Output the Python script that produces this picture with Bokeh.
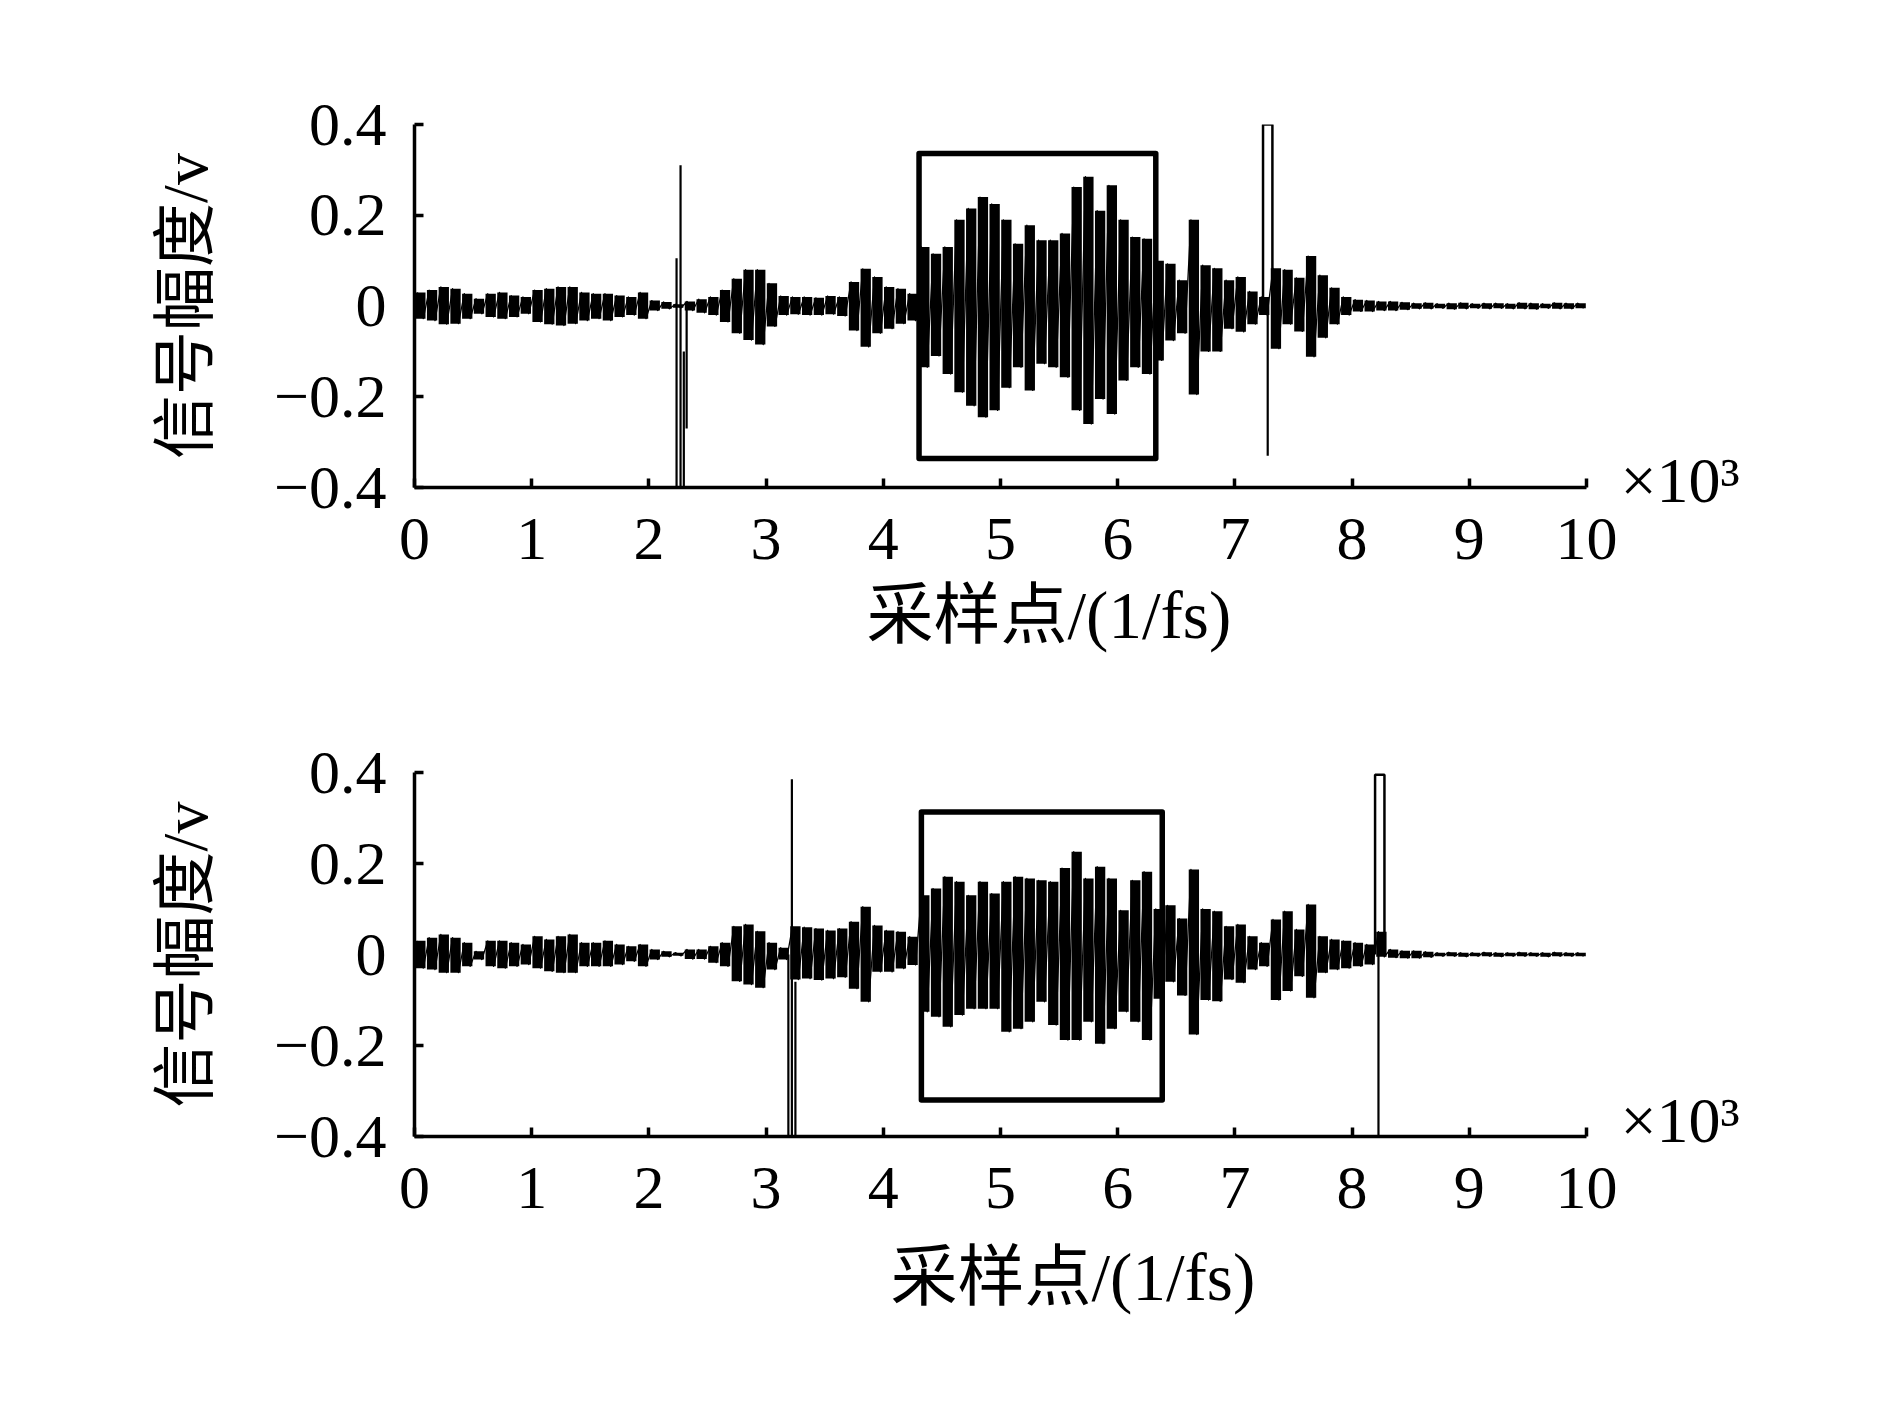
from bokeh.plotting import figure
from bokeh.layouts import column
from bokeh.models import Range1d, FixedTicker, ColumnDataSource, Title, LinearAxis
from bokeh.embed import file_html
from bokeh.resources import INLINE

# ---------------- data ----------------
# sample bins of 100 samples; per bin upper / lower excursion of the waveform (V)
bin_width = 100
top_hi = [0.030, 0.035, 0.042, 0.038, 0.027, 0.016, 0.027, 0.030, 0.023, 0.020,
          0.035, 0.038, 0.042, 0.042, 0.030, 0.027, 0.027, 0.023, 0.020, 0.030,
          0.012, 0.009, 0.004, 0.010, 0.015, 0.020, 0.035, 0.060, 0.080, 0.080,
          0.050, 0.022, 0.020, 0.020, 0.018, 0.022, 0.020, 0.053, 0.082, 0.064,
          0.042, 0.038, 0.027, 0.130, 0.115, 0.130, 0.190, 0.215, 0.240, 0.225,
          0.190, 0.137, 0.178, 0.145, 0.145, 0.160, 0.262, 0.285, 0.210, 0.266,
          0.190, 0.152, 0.148, 0.100, 0.093, 0.057, 0.190, 0.090, 0.083, 0.057,
          0.064, 0.032, 0.020, 0.083, 0.080, 0.062, 0.110, 0.068, 0.040, 0.020,
          0.014, 0.012, 0.010, 0.010, 0.008, 0.006, 0.007, 0.005, 0.006, 0.007,
          0.005, 0.006, 0.006, 0.005, 0.007, 0.006, 0.005, 0.007, 0.006, 0.006]
top_lo = [-0.028, -0.032, -0.040, -0.039, -0.028, -0.017, -0.024, -0.028, -0.024, -0.017,
          -0.035, -0.040, -0.043, -0.039, -0.032, -0.028, -0.032, -0.024, -0.020, -0.028,
          -0.010, -0.006, -0.004, -0.010, -0.015, -0.020, -0.035, -0.060, -0.075, -0.085,
          -0.045, -0.020, -0.018, -0.020, -0.020, -0.018, -0.022, -0.054, -0.090, -0.060,
          -0.050, -0.039, -0.032, -0.135, -0.110, -0.150, -0.190, -0.220, -0.245, -0.230,
          -0.180, -0.135, -0.186, -0.127, -0.135, -0.157, -0.230, -0.260, -0.205, -0.238,
          -0.164, -0.135, -0.150, -0.120, -0.076, -0.060, -0.195, -0.100, -0.100, -0.050,
          -0.057, -0.040, -0.020, -0.094, -0.040, -0.056, -0.112, -0.070, -0.040, -0.020,
          -0.012, -0.012, -0.010, -0.010, -0.008, -0.006, -0.006, -0.005, -0.007, -0.006,
          -0.005, -0.006, -0.005, -0.006, -0.006, -0.007, -0.005, -0.006, -0.006, -0.005]
top_spike_x = [2236, 2270, 2298, 2322, 7280]
top_spike_hi = [0.105, 0.31, -0.10, 0.0, 0.0]
top_spike_lo = [-0.42, -0.42, -0.42, -0.27, -0.33]
top_pulse_x = [7240, 7240, 7320, 7320]
top_pulse_y = [0.0, 0.40, 0.40, 0.0]
top_box = dict(left=[4305], right=[6325], bottom=[-0.336], top=[0.336])

bottom_hi = [0.030, 0.037, 0.044, 0.037, 0.026, 0.007, 0.030, 0.030, 0.026, 0.022,
             0.040, 0.033, 0.040, 0.044, 0.026, 0.026, 0.030, 0.022, 0.018, 0.022,
             0.011, 0.007, 0.004, 0.011, 0.011, 0.018, 0.026, 0.062, 0.066, 0.051,
             0.026, 0.015, 0.062, 0.060, 0.057, 0.053, 0.057, 0.072, 0.105, 0.064,
             0.053, 0.050, 0.039, 0.130, 0.145, 0.171, 0.160, 0.130, 0.160, 0.134,
             0.160, 0.171, 0.167, 0.163, 0.160, 0.190, 0.226, 0.167, 0.193, 0.167,
             0.097, 0.163, 0.182, 0.100, 0.108, 0.079, 0.187, 0.100, 0.095, 0.062,
             0.066, 0.040, 0.026, 0.077, 0.095, 0.055, 0.110, 0.040, 0.033, 0.030,
             0.026, 0.022, 0.050, 0.011, 0.008, 0.008, 0.006, 0.004, 0.005, 0.004,
             0.004, 0.005, 0.004, 0.004, 0.005, 0.004, 0.004, 0.005, 0.004, 0.004]
bottom_lo = [-0.030, -0.033, -0.040, -0.040, -0.026, -0.011, -0.026, -0.030, -0.026, -0.022,
             -0.030, -0.037, -0.040, -0.040, -0.026, -0.026, -0.026, -0.022, -0.015, -0.026,
             -0.011, -0.005, -0.003, -0.010, -0.010, -0.018, -0.026, -0.059, -0.066, -0.073,
             -0.033, -0.011, -0.055, -0.053, -0.056, -0.053, -0.050, -0.075, -0.104, -0.038,
             -0.038, -0.031, -0.023, -0.126, -0.137, -0.159, -0.133, -0.119, -0.119, -0.119,
             -0.170, -0.163, -0.148, -0.104, -0.155, -0.188, -0.188, -0.148, -0.196, -0.163,
             -0.126, -0.148, -0.188, -0.097, -0.060, -0.090, -0.176, -0.100, -0.103, -0.055,
             -0.062, -0.033, -0.026, -0.100, -0.080, -0.048, -0.095, -0.040, -0.033, -0.030,
             -0.026, -0.022, -0.005, -0.007, -0.008, -0.008, -0.006, -0.004, -0.004, -0.005,
             -0.004, -0.004, -0.005, -0.004, -0.004, -0.004, -0.005, -0.004, -0.004, -0.004]
bottom_spike_x = [3190, 3220, 3250, 8225]
bottom_spike_hi = [0.0, 0.385, -0.06, 0.0]
bottom_spike_lo = [-0.42, -0.42, -0.42, -0.42]
bottom_pulse_x = [8196, 8196, 8276, 8276]
bottom_pulse_y = [0.0, 0.395, 0.395, 0.0]
bottom_box = dict(left=[4325], right=[6380], bottom=[-0.320], top=[0.313])

x_tick_values = [0, 1000, 2000, 3000, 4000, 5000, 6000, 7000, 8000, 9000, 10000]
x_tick_labels = ["0", "1", "2", "3", "4", "5", "6", "7", "8", "9", "10"]
y_tick_values = [-0.4, -0.2, 0.0, 0.2, 0.4]
y_tick_labels = ["\u22120.4", "\u22120.2", "0", "0.2", "0.4"]

x_title = "采样点/(1/fs)"
y_title = "信号幅度/v"
scale_note = "×10³"

SERIF = "Liberation Serif"
MIXED = "Liberation Serif, Noto Sans CJK SC"


def make_fig(hi, lo, sx, shi, slo, px, py, box, width, height, borders,
             title_offset, title_standoff, note_y):
    bl, br, bt, bb = borders
    p = figure(width=width, height=height, output_backend="svg", toolbar_location=None,
               x_range=Range1d(0, 10000), y_range=Range1d(-0.4, 0.4),
               min_border_left=bl, min_border_right=br, min_border_top=bt,
               min_border_bottom=bb)
    p.grid.visible = False
    p.outline_line_color = None
    p.background_fill_color = "white"
    p.border_fill_color = "white"

    centers = [i * bin_width + bin_width / 2 for i in range(len(hi))]
    p.vbar(x=centers, width=bin_width * 0.88, top=hi, bottom=lo,
           fill_color="black", line_color=None)
    xs, ys = [], []
    for i in range(len(hi)):
        xs += [i * bin_width + 25, i * bin_width + 75]
        ys += [hi[i], lo[i]]
    p.line(xs, ys, line_color="black", line_width=1.3, line_join="round")
    p.segment(x0=sx, y0=slo, x1=sx, y1=shi, line_color="black", line_width=2.2)
    p.line(px, py, line_color="black", line_width=2.5)
    p.quad(source=ColumnDataSource(box), left="left", right="right", bottom="bottom",
           top="top", fill_alpha=0, line_color="black", line_width=5.5,
           line_join="round")

    for ax in (p.xaxis[0], p.yaxis[0]):
        ax.axis_line_width = 3.5
        ax.axis_line_color = "black"
        ax.major_tick_line_width = 3.5
        ax.major_tick_line_color = "black"
        ax.major_tick_in = 9
        ax.major_tick_out = 0
        ax.minor_tick_line_color = None
        ax.major_label_text_font = SERIF
        ax.major_label_text_font_size = "62px"
        ax.major_label_text_color = "black"

    p.xaxis.ticker = FixedTicker(ticks=x_tick_values)
    p.xaxis.major_label_overrides = dict(zip(x_tick_values, x_tick_labels))
    p.xaxis.major_label_standoff = 31
    p.yaxis.ticker = FixedTicker(ticks=y_tick_values)
    p.yaxis.major_label_overrides = dict(zip(y_tick_values, y_tick_labels))
    p.yaxis.major_label_standoff = 28

    p.yaxis.axis_label = y_title
    p.yaxis.axis_label_text_font = MIXED
    p.yaxis.axis_label_text_font_size = "64px"
    p.yaxis.axis_label_text_font_style = "normal"
    p.yaxis.axis_label_text_color = "black"
    p.yaxis.axis_label_standoff = 50

    # x-axis title (placed a little right of centre, as in the original)
    p.add_layout(Title(text=x_title, align="left", offset=title_offset,
                       text_font=MIXED, text_font_size="67px",
                       text_font_style="normal", text_color="black",
                       standoff=title_standoff),
                 "below")

    # "x10^3" multiplier at the right end of the x axis
    p.extra_y_ranges = {"note": Range1d(-0.4, 0.4)}
    note_axis = LinearAxis(y_range_name="note", ticker=FixedTicker(ticks=[note_y]),
                           major_label_overrides={note_y: scale_note},
                           axis_line_color=None, major_tick_line_color=None,
                           minor_tick_line_color=None, major_label_standoff=28,
                           major_label_text_font=SERIF,
                           major_label_text_font_size="64px",
                           major_label_text_color="black")
    p.add_layout(note_axis, "right")
    return p


p1 = make_fig(top_hi, top_lo, top_spike_x, top_spike_hi, top_spike_lo,
              top_pulse_x, top_pulse_y, top_box, 1870, 727, (408, 284, 124, 240),
              452, 28, -0.385)
p2 = make_fig(bottom_hi, bottom_lo, bottom_spike_x, bottom_spike_hi, bottom_spike_lo,
              bottom_pulse_x, bottom_pulse_y, bottom_box, 1870, 659, (414, 279, 45, 250),
              476, 54, -0.365)

layout = column(p1, p2, spacing=0)
open("out.html", "w").write(file_html(layout, INLINE))
